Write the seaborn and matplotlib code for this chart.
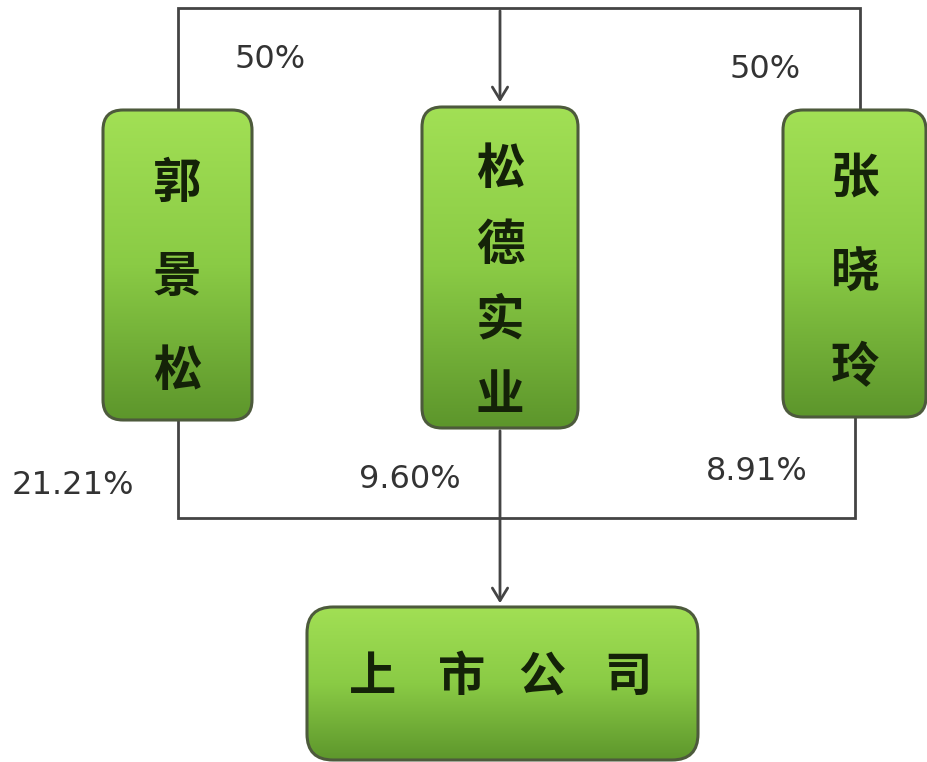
import numpy as np
import matplotlib
matplotlib.use("Agg")
import matplotlib.pyplot as plt
import seaborn as sns
from matplotlib.patches import FancyBboxPatch
from matplotlib.colors import LinearSegmentedColormap

sns.set_style("white")
plt.rcParams['font.family'] = ['Noto Sans CJK SC', 'DejaVu Sans']

# data
shareholders = ["郭景松", "松德实业", "张晓玲"]
company = "上市公司"
holding_pcts = ["21.21%", "9.60%", "8.91%"]
parent_pcts = ["50%", "50%"]

W, H = 928, 762
fig = plt.figure(figsize=(W / 100, H / 100), dpi=100)
ax = fig.add_axes([0, 0, 1, 1])
ax.set_xlim(0, W)
ax.set_ylim(H, 0)
ax.axis("off")

cmap = LinearSegmentedColormap.from_list("g", ["#a2e055", "#8acb45", "#5c952b"])
grad = np.linspace(0, 1, 256).reshape(-1, 1)

def box(x0, y0, x1, y1, r=20):
    p = FancyBboxPatch((x0 + r, y0 + r), (x1 - x0) - 2 * r, (y1 - y0) - 2 * r,
                       boxstyle=f"round,pad={r}", fc="none", ec="#4d5a3c", lw=2.2, zorder=3)
    ax.add_patch(p)
    im = ax.imshow(grad, cmap=cmap, extent=(x0 - r, x1 + r, y1 + 2, y0 - 2), aspect="auto", zorder=2,
                   interpolation="bilinear")
    im.set_clip_path(p)

lc = "#444444"
lw = 2.0
# boxes
boxes = [(103, 110, 252, 420), (422, 107, 578, 428), (783, 110, 926, 417)]
for (x0, y0, x1, y1) in boxes:
    box(x0, y0, x1, y1)
box(307, 607, 698, 760, r=26)

# top connector lines
ax.plot([178, 178, 860, 860], [110, 8, 8, 110], color=lc, lw=lw, zorder=1, solid_joinstyle="miter")
ax.annotate("", xy=(500, 105), xytext=(500, 8),
            arrowprops=dict(arrowstyle="->,head_length=0.9,head_width=0.55", color=lc, lw=lw), zorder=4)
# bottom connector lines
ax.plot([178, 178, 855, 855], [420, 518, 518, 417], color=lc, lw=lw, zorder=1, solid_joinstyle="miter")
ax.annotate("", xy=(500, 606), xytext=(500, 428),
            arrowprops=dict(arrowstyle="->,head_length=0.9,head_width=0.55", color=lc, lw=lw), zorder=4)

# box labels
char_ys = [[183, 277, 371], [170, 245, 320, 395], [178, 273, 368]]
centers = [177, 500, 855]
for name, cx, ys in zip(shareholders, centers, char_ys):
    for ch, y in zip(name, ys):
        ax.text(cx, y, ch, fontsize=35, fontweight="bold", color="#142208",
                ha="center", va="center", zorder=5)
for ch, x in zip(company, [373, 462, 542, 628]):
    ax.text(x, 677, ch, fontsize=34, fontweight="bold", color="#142208",
            ha="center", va="center", zorder=5)

# percentage labels
tc = "#333333"
for t, (x, y) in zip(parent_pcts, [(270, 60), (765, 70)]):
    ax.text(x, y, t, fontsize=23, color=tc, ha="center", va="center", fontfamily="DejaVu Sans")
for t, (x, y) in zip(holding_pcts, [(73, 485), (410, 480), (757, 472)]):
    ax.text(x, y, t, fontsize=23, color=tc, ha="center", va="center", fontfamily="DejaVu Sans")

fig.savefig("out.png", dpi=100)
